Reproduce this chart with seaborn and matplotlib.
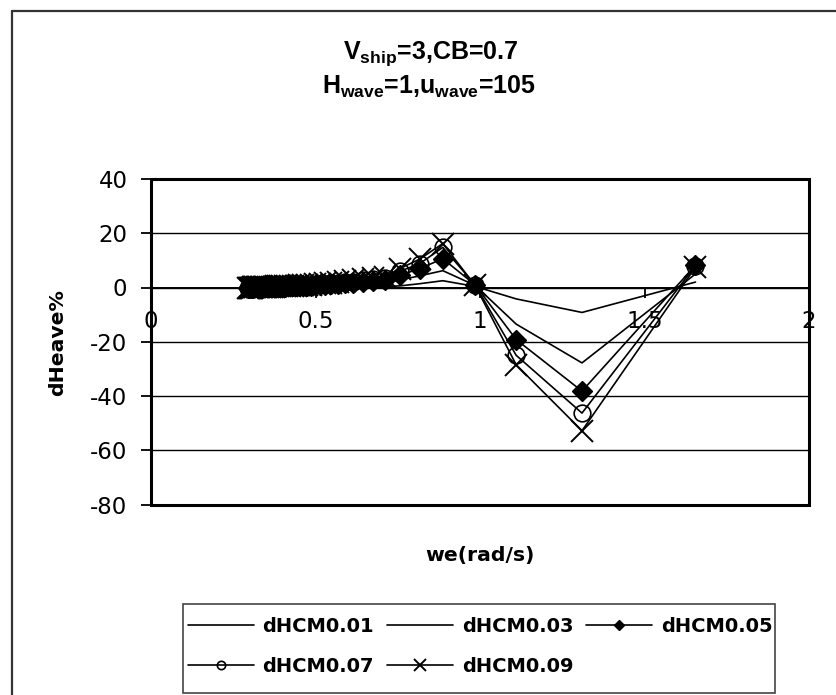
import numpy as np
import pandas as pd
import seaborn as sns
import matplotlib.pyplot as plt
from matplotlib.lines import Line2D
from matplotlib.patches import Rectangle

# encounter frequency (rad/s), shared by every series
we = [0.294, 0.297, 0.300, 0.304, 0.307, 0.310, 0.314, 0.317, 0.321, 0.325,
      0.329, 0.333, 0.337, 0.342, 0.346, 0.351, 0.356, 0.361, 0.367, 0.373,
      0.379, 0.385, 0.392, 0.399, 0.406, 0.414, 0.422, 0.431, 0.441, 0.451,
      0.461, 0.473, 0.486, 0.499, 0.514, 0.530, 0.548, 0.568, 0.590, 0.615,
      0.643, 0.676, 0.712, 0.757, 0.817, 0.887, 0.985, 1.110, 1.310, 1.655]

dhcm_001 = [0, 0, 0, 0, 0, 0, 0, 0, 0, 0,
            0, 0, 0, 0, 0, 0, 0, 0, 0, 0,
            0, 0, 0.1, 0.1, 0.1, 0.1, 0.1, 0.1, 0.1, 0.1,
            0.1, 0.2, 0.2, 0.2, 0.2, 0.2, 0.3, 0.3, 0.3, 0.4,
            0.4, 0.4, 0.4, 0.6, 1.4, 2.5, 0.4, -4.2, -9.2, 2.0]
dhcm_003 = [0, 0, 0, 0, 0, 0, 0, 0, 0, 0,
            0.1, 0.1, 0.1, 0.1, 0.1, 0.1, 0.1, 0.1, 0.1, 0.1,
            0.1, 0.2, 0.2, 0.2, 0.2, 0.2, 0.2, 0.3, 0.3, 0.3,
            0.4, 0.4, 0.5, 0.5, 0.6, 0.6, 0.7, 0.8, 0.9, 1.0,
            1.2, 1.4, 1.7, 2.8, 4.3, 6.2, 0.8, -13.5, -27.8, 5.0]
dhcm_005 = [0, 0, 0, 0, 0, 0, 0.1, 0.1, 0.1, 0.1,
            0.1, 0.1, 0.1, 0.1, 0.2, 0.2, 0.2, 0.2, 0.2, 0.2,
            0.2, 0.3, 0.3, 0.3, 0.3, 0.4, 0.4, 0.4, 0.5, 0.5,
            0.6, 0.7, 0.7, 0.8, 0.9, 1.0, 1.2, 1.3, 1.5, 1.7,
            2.0, 2.3, 2.8, 4.5, 7.0, 10.6, 1.0, -19.2, -38.2, 8.2]
dhcm_007 = [0, 0, 0, 0, 0, 0.1, 0.1, 0.1, 0.1, 0.1,
            0.1, 0.1, 0.2, 0.2, 0.2, 0.2, 0.2, 0.2, 0.3, 0.3,
            0.3, 0.3, 0.4, 0.4, 0.4, 0.5, 0.5, 0.6, 0.6, 0.7,
            0.8, 0.9, 1.0, 1.1, 1.2, 1.4, 1.5, 1.7, 2.0, 2.2,
            2.6, 3.0, 3.6, 6.0, 8.8, 14.8, 1.0, -25.0, -46.3, 8.0]
dhcm_009 = [0, 0, 0, 0, 0, 0.1, 0.1, 0.1, 0.1, 0.1,
            0.1, 0.2, 0.2, 0.2, 0.2, 0.2, 0.3, 0.3, 0.3, 0.3,
            0.4, 0.4, 0.4, 0.5, 0.5, 0.6, 0.6, 0.7, 0.7, 0.8,
            0.9, 1.0, 1.1, 1.3, 1.4, 1.6, 1.8, 2.0, 2.3, 2.6,
            3.0, 3.5, 4.0, 7.0, 10.5, 16.2, 0.8, -28.5, -52.8, 7.5]

series_names = ['dHCM0.01', 'dHCM0.03', 'dHCM0.05', 'dHCM0.07', 'dHCM0.09']
series_values = [dhcm_001, dhcm_003, dhcm_005, dhcm_007, dhcm_009]

x_ticks = [0, 0.5, 1, 1.5, 2]
x_tick_labels = ['0', '0.5', '1', '1.5', '2']
y_ticks = [-80, -60, -40, -20, 0, 20, 40]

sns.set_theme(style='white')
plt.rcParams['font.family'] = ['DejaVu Sans']
plt.rcParams['text.color'] = 'black'
plt.rcParams['axes.labelcolor'] = 'black'
plt.rcParams['axes.unicode_minus'] = False
plt.rcParams['mathtext.fontset'] = 'custom'
plt.rcParams['mathtext.rm'] = 'Liberation Sans'
plt.rcParams['mathtext.bf'] = 'Liberation Sans:bold'
plt.rcParams['mathtext.it'] = 'Liberation Sans:italic'

W, H = 836, 695
fig = plt.figure(figsize=(W / 100, H / 100), dpi=100)
ax = fig.add_axes([151 / W, 1 - 504.5 / H, 658 / W, 325.5 / H])

marker_styles = {
    'dHCM0.01': dict(),
    'dHCM0.03': dict(),
    'dHCM0.05': dict(marker='D', markersize=10, markerfacecolor='black',
                     markeredgecolor='black', markeredgewidth=1.0),
    'dHCM0.07': dict(marker='o', markersize=12, markerfacecolor='none',
                     markeredgecolor='black', markeredgewidth=1.2),
    'dHCM0.09': dict(marker='x', markersize=16, markeredgecolor='black',
                     markeredgewidth=1.4),
}

for name, vals in zip(series_names, series_values):
    df = pd.DataFrame({'we': we, 'dHeave': vals})
    sns.lineplot(data=df, x='we', y='dHeave', ax=ax, color='black',
                 linewidth=1.2, label=name, errorbar=None, sort=False,
                 **marker_styles[name])

ax.set_xlim(0, 2)
ax.set_ylim(-80, 40)
ax.set_xticks(x_ticks)
ax.set_xticklabels(x_tick_labels)
ax.set_yticks(y_ticks)
ax.set_xlabel('')
ax.set_ylabel('')
ax.set_axisbelow(True)
ax.yaxis.grid(True, color='black', linewidth=1.0)
ax.xaxis.grid(False)

# x axis crosses at y = 0, plot area gets a full frame
for s in ['left', 'right', 'top']:
    ax.spines[s].set_visible(False)
ax.spines['bottom'].set_position(('data', 0))
ax.spines['bottom'].set_color('black')
ax.spines['bottom'].set_linewidth(1.4)
ax.add_patch(Rectangle((0, 0), 1, 1, transform=ax.transAxes, fill=False,
                       edgecolor='black', linewidth=2.2, zorder=5, clip_on=False))

ax.tick_params(axis='y', left=True, direction='out', length=7, width=1.3,
               pad=10, labelsize=16.5, colors='black')
ax.tick_params(axis='x', bottom=True, direction='out', length=7, width=1.3,
               pad=9, labelsize=16.5, colors='black')

# titles and axis labels
fig.text(431 / W, 1 - 58.5 / H, r'V$_{\mathbf{ship}}$=3,CB=0.7', ha='center',
         va='baseline', fontsize=18, fontweight='bold', family='Liberation Sans')
fig.text(429 / W, 1 - 93.5 / H, r'H$_{\mathbf{wave}}$=1,u$_{\mathbf{wave}}$=105',
         ha='center', va='baseline', fontsize=18, fontweight='bold',
         family='Liberation Sans')
fig.text(58 / W, 1 - 343 / H, 'dHeave%', rotation=90, ha='center', va='center',
         fontsize=14.7, fontweight='bold')
fig.text(480 / W, 1 - 555 / H, 'we(rad/s)', ha='center', va='center',
         fontsize=14.7, fontweight='bold')

# legend, filled row by row like the original; box drawn separately
ax.get_legend().remove()
handles, labels = ax.get_legend_handles_labels()
order = [0, 3, 1, 4, 2]
leg = fig.legend([handles[i] for i in order], [labels[i] for i in order],
                 ncol=3, loc='center', bbox_to_anchor=(480 / W, 1 - 646.5 / H),
                 prop=dict(weight='bold', size=14), frameon=False,
                 handlelength=3.4, handletextpad=0.45, columnspacing=0.65,
                 markerscale=0.5, borderpad=0, labelspacing=1.1,
                 borderaxespad=0)
fig.add_artist(Rectangle((183 / W, 1 - 693 / H), 592 / W, 89 / H,
                         transform=fig.transFigure, fill=False,
                         edgecolor='#444444', linewidth=1.2))

# chart area border (cut off at right and bottom)
fig.add_artist(Line2D([12 / W, 12 / W], [0, 1 - 11 / H], transform=fig.transFigure,
                      color='#333333', linewidth=1.6))
fig.add_artist(Line2D([12 / W, 1], [1 - 11 / H, 1 - 11 / H], transform=fig.transFigure,
                      color='#333333', linewidth=1.6))

fig.savefig('out.png', dpi=100)
